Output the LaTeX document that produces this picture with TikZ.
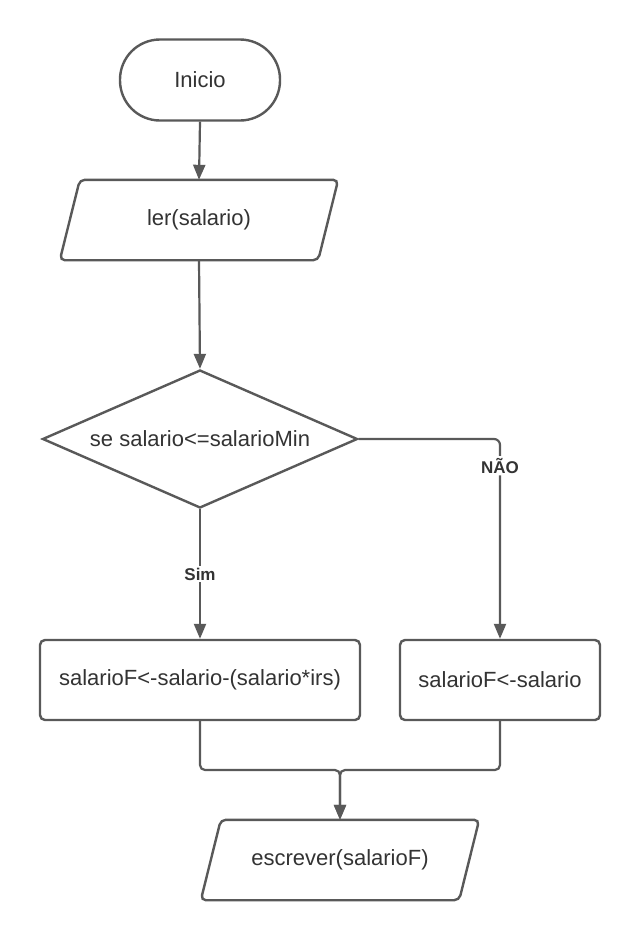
\documentclass[tikz,border=0pt]{standalone}
\usepackage{fontspec}
\setmainfont{Liberation Sans}
\usetikzlibrary{shapes.geometric,arrows.meta,calc}
\definecolor{linec}{HTML}{595959}
\definecolor{textc}{HTML}{333333}
\begin{document}
\begin{tikzpicture}[x=1pt,y=-1pt,
  every node/.style={text=textc,font=\fontsize{22}{26}\selectfont},
  shapeline/.style={draw=linec,line width=2.4pt},
  termbox/.style={shapeline,rectangle,rounded corners=40pt,minimum width=160pt,minimum height=81pt,inner sep=0pt},
  procbox/.style={shapeline,rectangle,rounded corners=5pt,minimum height=80pt,inner sep=0pt},
  iobox/.style={rectangle,minimum width=258pt,minimum height=80pt,inner sep=0pt},
  decbox/.style={shapeline,diamond,aspect=2.28,minimum width=315pt,minimum height=138pt,inner sep=0pt},
  conn/.style={draw=linec,line width=2.2pt,-{Triangle[length=15pt,width=12pt]}},
  lbl/.style={fill=white,inner sep=2pt,font=\fontsize{17}{20}\selectfont\bfseries}
]
\useasboundingbox (0,0) rectangle (640,940);
\fill[white] (0,0) rectangle (640,940);

\node[termbox] (inicio) at (200,80) {Inicio};
\node[iobox] (ler) at (199,220) {ler(salario)};
\draw[shapeline,rounded corners=5pt] ([xshift=10pt]ler.north west) -- ([xshift=10pt]ler.north east) -- ([xshift=-10pt]ler.south east) -- ([xshift=-10pt]ler.south west) -- cycle;
\node[decbox] (dec) at (200,439) {se salario<=salarioMin};
\node[procbox,minimum width=320pt] (sim) at (200,680) {salarioF<-salario-(salario*irs)};
\node[procbox,minimum width=200pt] (nao) at (500,680) {salarioF<-salario};
\node[iobox] (esc) at (340,860) {escrever(salarioF)};
\draw[shapeline,rounded corners=5pt] ([xshift=10pt]esc.north west) -- ([xshift=10pt]esc.north east) -- ([xshift=-10pt]esc.south east) -- ([xshift=-10pt]esc.south west) -- cycle;

\coordinate (j) at (340,770);

\draw[conn] (inicio.south) -- (ler.north);
\draw[conn] (ler.south) -- (dec.north);
\draw[conn] (dec.south) -- node[lbl,pos=0.5] {Sim} (sim.north);
\draw[conn,rounded corners=6pt] (dec.east) -| node[lbl,pos=0.567] {NÃO} (nao.north);
\draw[conn,rounded corners=5pt] (sim.south) |- (j) -- (esc.north);
\draw[conn,rounded corners=5pt] (nao.south) |- (j) -- (esc.north);
\end{tikzpicture}
\end{document}
